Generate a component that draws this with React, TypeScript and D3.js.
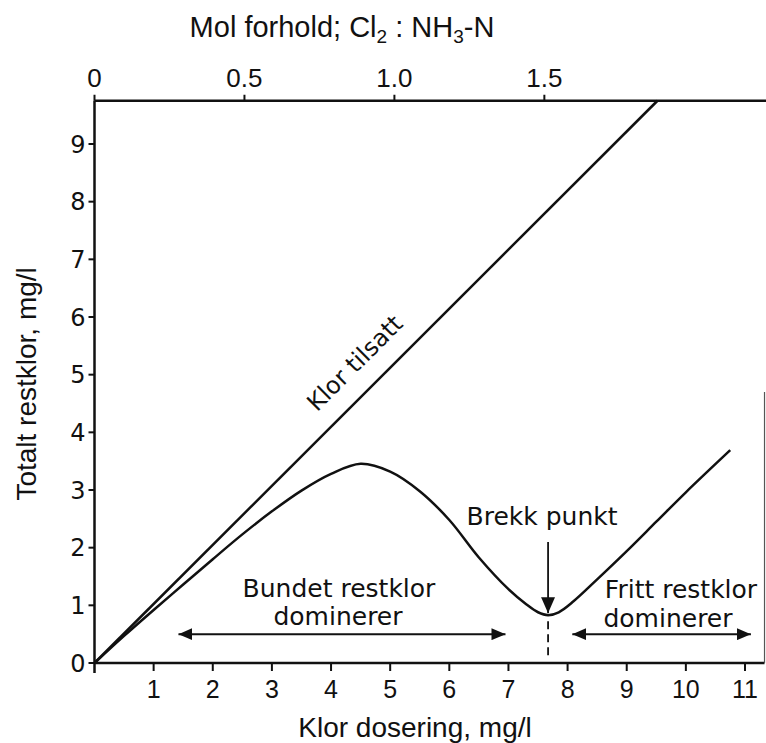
import React from "react";
import * as d3 from "d3";

// ---- data ----
const doseTicks = [1, 2, 3, 4, 5, 6, 7, 8, 9, 10, 11];
const residualTicks = [0, 1, 2, 3, 4, 5, 6, 7, 8, 9];
const molTicks = [0, 0.5, 1.0, 1.5];
const molTickLabels = ["0", "0.5", "1.0", "1.5"];

// Klor tilsatt (added chlorine) line
const addedDose = [0, 9.52];
const addedResidual = [0, 9.75];

// Total residual chlorine curve
const curveDose = [0, 0.5, 1.0, 1.5, 2.0, 2.5, 3.0, 3.5, 4.0, 4.5, 5.0, 5.5, 6.0, 6.5, 7.0, 7.3, 7.5, 7.67, 7.85, 8.1, 8.5, 9.0, 9.5, 10.0, 10.75];
const curveResidual = [0, 0.47, 0.92, 1.36, 1.8, 2.23, 2.63, 2.99, 3.28, 3.455, 3.32, 2.98, 2.48, 1.83, 1.28, 1.02, 0.88, 0.83, 0.88, 1.07, 1.45, 1.94, 2.45, 2.96, 3.69];

const breakDose = 7.67;
const breakResidual = 0.83;

const W = 766;
const H = 743;

export default function App() {
  const x = d3.scaleLinear().domain([0, 11]).range([94.5, 745]);
  const y = d3.scaleLinear().domain([0, 9]).range([663, 144]);
  const molPerMg = 14 / 71;
  const mol = d3.scaleLinear().domain([0, 11 * molPerMg]).range([94.5, 745]);

  const x0 = x(0);
  const y0 = y(0);
  const yTop = y(9.75);
  const xRight = x(11.33);

  const lineGen = d3
    .line<[number, number]>()
    .x((d) => x(d[0]))
    .y((d) => y(d[1]));

  const addedPts: [number, number][] = addedDose.map((d, i) => [d, addedResidual[i]]);
  const curvePts: [number, number][] = curveDose.map((d, i) => [d, curveResidual[i]]);

  const angle =
    (Math.atan2(y(addedResidual[1]) - y(0), x(addedDose[1]) - x(0)) * 180) / Math.PI;

  const annoFont = "'DejaVu Sans', Verdana, sans-serif";
  const axisFont = "'Liberation Sans', Arial, Helvetica, sans-serif";

  const bx = x(breakDose);

  return (
    <svg
      width={W}
      height={H}
      viewBox={`0 0 ${W} ${H}`}
      style={{ position: "absolute", left: 0, top: 0, display: "block", background: "#fff" }}
    >
      <defs>
        <marker id="ah" viewBox="0 0 14 12" refX="14" refY="6" markerWidth="14" markerHeight="12" markerUnits="userSpaceOnUse" orient="auto-start-reverse">
          <path d="M0,0 L14,6 L0,12 Z" fill="#111" />
        </marker>
        <marker id="ahBig" viewBox="0 0 16 14" refX="16" refY="7" markerWidth="16" markerHeight="14" markerUnits="userSpaceOnUse" orient="auto">
          <path d="M0,0 L16,7 L0,14 Z" fill="#111" />
        </marker>
      </defs>

      {/* top title */}
      <text x={342} y={37} fontFamily={axisFont} fontSize={29} textAnchor="middle" fill="#111">
        Mol forhold; Cl
        <tspan fontSize={19} dy={6}>2</tspan>
        <tspan dy={-6}> : NH</tspan>
        <tspan fontSize={19} dy={6}>3</tspan>
        <tspan dy={-6}>-N</tspan>
      </text>

      {/* top axis */}
      <line x1={x0} x2={W} y1={yTop} y2={yTop} stroke="#111" strokeWidth={2.5} />
      {molTicks.map((m, i) => (
        <g key={"m" + i}>
          <line x1={mol(m)} x2={mol(m)} y1={yTop} y2={yTop - 6} stroke="#111" strokeWidth={2} />
          <text x={mol(m)} y={yTop - 14} fontFamily={axisFont} fontSize={26} textAnchor="middle" fill="#111">
            {molTickLabels[i]}
          </text>
        </g>
      ))}

      {/* left axis */}
      <line x1={x0} x2={x0} y1={yTop} y2={y0 + 10} stroke="#111" strokeWidth={2.5} />
      {residualTicks.map((t) => (
        <g key={"y" + t}>
          <line x1={x0 - 6} x2={x0} y1={y(t)} y2={y(t)} stroke="#111" strokeWidth={2} />
          <text x={x0 - 9} y={y(t)} dy="0.36em" fontFamily={annoFont} fontSize={24} textAnchor="end" fill="#111">
            {t}
          </text>
        </g>
      ))}
      <text
        transform={`translate(36, ${(yTop + y0) / 2 + 2}) rotate(-90)`}
        fontFamily={axisFont}
        fontSize={28}
        textAnchor="middle"
        fill="#111"
      >
        Totalt restklor, mg/l
      </text>

      {/* bottom axis */}
      <line x1={x0} x2={xRight} y1={y0} y2={y0} stroke="#111" strokeWidth={2.5} />
      {doseTicks.map((t) => (
        <g key={"x" + t}>
          <line x1={x(t)} x2={x(t)} y1={y0} y2={y0 + 8} stroke="#111" strokeWidth={2} />
          <text x={x(t)} y={y0 + 35} fontFamily={axisFont} fontSize={25} textAnchor="middle" fill="#111">
            {t}
          </text>
        </g>
      ))}
      <text x={415} y={737} fontFamily={axisFont} fontSize={28} textAnchor="middle" fill="#111">
        Klor dosering, mg/l
      </text>

      {/* right border */}
      <line x1={xRight} x2={xRight} y1={y(4.7)} y2={y0} stroke="#555" strokeWidth={1.2} />

      {/* Klor tilsatt line */}
      <path d={lineGen.curve(d3.curveLinear)(addedPts) || ""} fill="none" stroke="#111" strokeWidth={2.5} />
      {/* residual curve */}
      <path d={lineGen.curve(d3.curveCatmullRom.alpha(0.5))(curvePts) || ""} fill="none" stroke="#111" strokeWidth={2.5} />

      {/* Klor tilsatt label */}
      <text
        transform={`translate(${x(4.5)}, ${y(5.1)}) rotate(${angle})`}
        fontFamily={annoFont}
        fontSize={24}
        textAnchor="middle"
        fill="#111"
      >
        Klor tilsatt
      </text>

      {/* Break point */}
      <text x={bx - 6} y={525} fontFamily={annoFont} fontSize={25} textAnchor="middle" fill="#111">
        Brekk punkt
      </text>
      <line x1={bx} x2={bx} y1={542} y2={y(breakResidual) - 2} stroke="#111" strokeWidth={1.8} markerEnd="url(#ahBig)" />
      <line x1={bx} x2={bx} y1={y(breakResidual) + 6} y2={y0 - 5} stroke="#111" strokeWidth={1.8} strokeDasharray="8,5" />

      {/* Bundet restklor */}
      <text x={339} y={597} fontFamily={annoFont} fontSize={25} textAnchor="middle" fill="#111">
        Bundet restklor
      </text>
      <text x={338} y={625} fontFamily={annoFont} fontSize={25} textAnchor="middle" fill="#111">
        dominerer
      </text>
      <line x1={x(1.42)} x2={x(6.95)} y1={y(0.5)} y2={y(0.5)} stroke="#111" strokeWidth={2} markerStart="url(#ah)" markerEnd="url(#ah)" />

      {/* Fritt restklor */}
      <text x={681} y={598} fontFamily={annoFont} fontSize={25} textAnchor="middle" fill="#111">
        Fritt restklor
      </text>
      <text x={668} y={627} fontFamily={annoFont} fontSize={25} textAnchor="middle" fill="#111">
        dominerer
      </text>
      <line x1={x(8.08)} x2={x(11.1)} y1={y(0.5)} y2={y(0.5)} stroke="#111" strokeWidth={2} markerStart="url(#ah)" markerEnd="url(#ah)" />
    </svg>
  );
}
